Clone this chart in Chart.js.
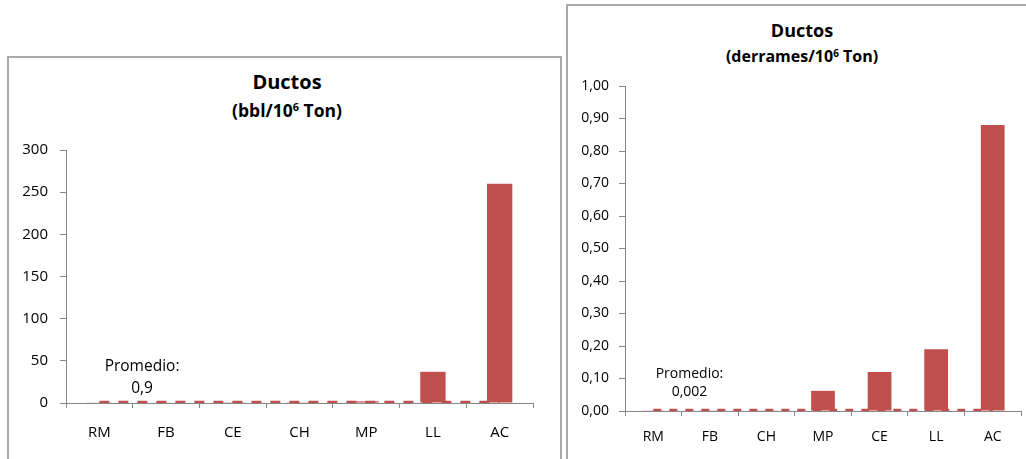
<!DOCTYPE html>
<html>
<head>
<meta charset="utf-8">
<script src="https://cdn.jsdelivr.net/npm/chart.js@4.4.1/dist/chart.umd.min.js"></script>
<style>
  html, body { margin: 0; padding: 0; background: #fff; overflow: hidden; }
  body { width: 1026px; height: 459px; position: relative; font-family: 'Open Sans', sans-serif; color: #000; }
  .box { position: absolute; border: 2px solid #aaaaaa; box-sizing: border-box; }
  .wrap { position: absolute; }
  .ttl { position: absolute; transform: translate(-50%, -50%); font-weight: 700; white-space: nowrap; line-height: 1; }
  .ttl sup { font-size: 0.62em; vertical-align: 0.55em; line-height: 0; }
</style>
</head>
<body>
<div class="box" style="left:7px; top:56px; width:555px; height:430px;"></div>
<div class="box" style="left:566px; top:4px; width:480px; height:480px;"></div>

<div class="ttl" style="left:287px; top:82px; font-size:20px;">Ductos</div>
<div class="ttl" style="left:287px; top:111px; font-size:17.5px;">(bbl/10<sup>6</sup> Ton)</div>
<div class="ttl" style="left:802px; top:30px; font-size:18px;">Ductos</div>
<div class="ttl" style="left:802px; top:56px; font-size:16px;">(derrames/10<sup>6</sup> Ton)</div>

<div class="wrap" style="left:8px; top:57px; width:552px; height:402px;"><canvas id="chartVol"></canvas></div>
<div class="wrap" style="left:568px; top:6px; width:458px; height:453px;"><canvas id="chartSpill"></canvas></div>

<script>
/* ─── Data ─────────────────────────────────────── */

const volLabels = ['RM', 'FB', 'CE', 'CH', 'MP', 'LL', 'AC'];
const volValues = [0.4, 0.5, 0.3, 0.3, 2.0, 37, 260];
const volAvg = [0.9, 0.9, 0.9, 0.9, 0.9, 0.9, 0.9];
const volAvgText = '0,9';
const volTicks = [0, 50, 100, 150, 200, 250, 300];

const spillLabels = ['RM', 'FB', 'CH', 'MP', 'CE', 'LL', 'AC'];
const spillValues = [0.001, 0.001, 0.001, 0.062, 0.12, 0.19, 0.88];
const spillAvg = [0.002, 0.002, 0.002, 0.002, 0.002, 0.002, 0.002];
const spillAvgText = '0,002';
const spillTicks = [0, 0.1, 0.2, 0.3, 0.4, 0.5, 0.6, 0.7, 0.8, 0.9, 1.0];

/* ─── Styles ─────────────────────────────────────── */

const RED = '#c0504d';
const AXIS = '#868686';
const INK = '#000000';
const FONT = "'Open Sans', sans-serif";

// "Promedio:" label drawn next to the average line
const avgLabelPlugin = {
  id: 'avgLabel',
  afterDatasetsDraw(chart, args, opts) {
    const { ctx, scales: { x, y } } = chart;
    const px = x.getPixelForValue(0.64);
    const py = y.getPixelForValue(opts.value);
    ctx.save();
    ctx.fillStyle = INK;
    ctx.font = `${opts.size}px ${FONT}`;
    ctx.textAlign = 'center';
    ctx.textBaseline = 'middle';
    ctx.fillText('Promedio:', px, py - opts.gap1);
    ctx.fillText(opts.text, px, py - opts.gap2);
    ctx.restore();
  }
};

function makeChart(id, cfg) {
  return new Chart(document.getElementById(id), {
    type: 'bar',
    data: {
      labels: cfg.labels,
      datasets: [
        { type: 'bar', data: cfg.values, backgroundColor: RED, borderWidth: 0,
          barPercentage: cfg.barPct, categoryPercentage: 1, order: 0 },
        { type: 'line', data: cfg.avg, borderColor: RED, borderWidth: 3,
          borderDash: cfg.dash, pointRadius: 0, fill: false, order: 1 },
      ]
    },
    options: {
      responsive: true, maintainAspectRatio: false, animation: false,
      layout: { padding: cfg.padding },
      plugins: {
        legend: { display: false }, tooltip: { enabled: false },
        avgLabel: { value: cfg.avg[0], text: cfg.avgText, size: cfg.labelSize, gap1: cfg.gap1, gap2: cfg.gap2 },
      },
      scales: {
        x: {
          afterFit: s => { s.height = cfg.xHeight; },
          grid: { drawOnChartArea: false, offset: true, tickLength: 5, tickColor: AXIS },
          border: { color: AXIS, width: 1 },
          ticks: { color: INK, padding: cfg.xPad, font: { family: FONT, size: cfg.fontSize } },
        },
        y: {
          min: cfg.yTicks[0], max: cfg.yTicks[cfg.yTicks.length - 1],
          afterFit: s => { s.width = cfg.yWidth; },
          afterBuildTicks: s => { s.ticks = cfg.yTicks.map(v => ({ value: v })); },
          grid: { drawOnChartArea: false, tickLength: 6, tickColor: AXIS },
          border: { color: AXIS, width: 1 },
          ticks: { color: INK, padding: cfg.yPad, font: { family: FONT, size: cfg.fontSize }, callback: cfg.fmt },
        },
      },
    },
    plugins: [avgLabelPlugin],
  });
}

makeChart('chartVol', {
  labels: volLabels, values: volValues, avg: volAvg, avgText: volAvgText, yTicks: volTicks,
  fmt: v => String(v), barPct: 0.38, dash: [10, 9],
  padding: { top: 93, right: 27, left: 0, bottom: 0 },
  xHeight: 56, yWidth: 58, xPad: 16, yPad: 12, fontSize: 15, labelSize: 15.5, gap1: 36, gap2: 14,
});

makeChart('chartSpill', {
  labels: spillLabels, values: spillValues, avg: spillAvg, avgText: spillAvgText, yTicks: spillTicks,
  fmt: v => v.toFixed(2).replace('.', ','), barPct: 0.42, dash: [8, 8],
  padding: { top: 80, right: 5, left: 0, bottom: 0 },
  xHeight: 48, yWidth: 57, xPad: 13, yPad: 10, fontSize: 14, labelSize: 14, gap1: 36, gap2: 18,
});
</script>
</body>
</html>
